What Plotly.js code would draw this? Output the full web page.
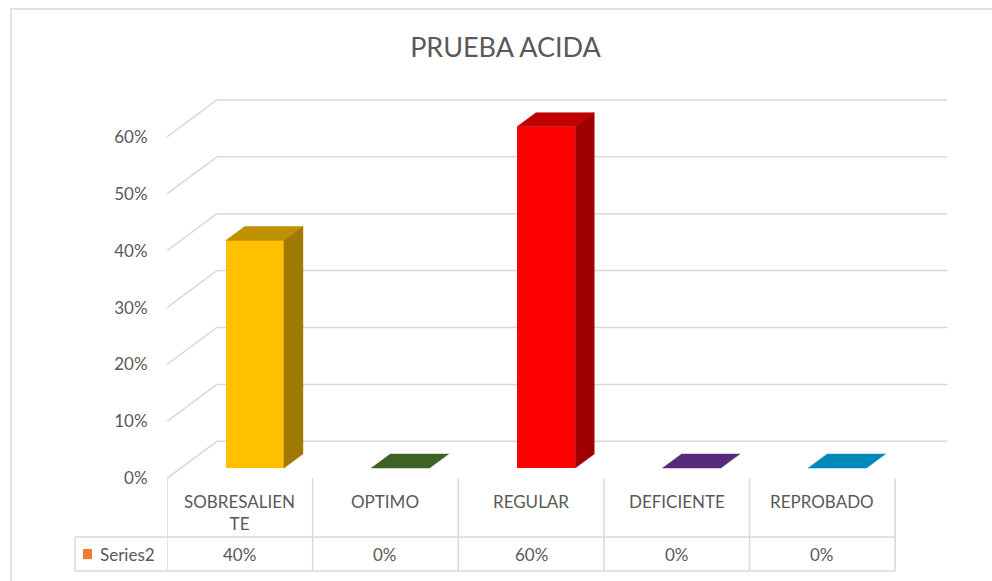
<!DOCTYPE html>
<html>
<head>
<meta charset="utf-8">
<script src="https://cdn.plot.ly/plotly-3.0.1.min.js"></script>
<style>html,body{margin:0;padding:0;background:#fff;}#chart{width:992px;height:581px;}</style>
</head>
<body>
<div id="chart"></div>
<script>
// ---- data ----
const categories = ['SOBRESALIENTE', 'OPTIMO', 'REGULAR', 'DEFICIENTE', 'REPROBADO'];
const values = [0.40, 0.00, 0.60, 0.00, 0.00];
const seriesName = 'Series2';
const yTickVals = [0, 0.1, 0.2, 0.3, 0.4, 0.5, 0.6];

// ---- styles ----
const frontColors = ['#FFC000', '#548235', '#FF0000', '#7030A0', '#00B0F0'];
const topColors   = ['#BF9000', '#3E6126', '#C00000', '#582A7E', '#0088B8'];
const sideColors  = ['#A07A00', '#2E4A1C', '#A00000', '#45205F', '#006C92'];
const FONT = 'Lato, "Open Sans", sans-serif';
const TXT = '#595959';
const GRID = '#D9D9D9';

// geometry (axis units)
const W = 801, H = 495, ML = 167, MT = 80, MB = 6, MR = 24;
const XR = [-0.5, 5.0], YR = [-0.17, 0.70];
const barW = 0.40;
const frontDx = 0.103, frontDy = 0.018;   // bar front plane offset
const depthDx = 0.1305, depthDy = 0.0246; // bar depth
const wallDx = 0.343, wallDy = 0.065;     // back wall offset
const wallRight = 4.857;
const row1 = -0.1033, row2 = -0.163;

const px2paperX = p => (p - ML) / W;
const py2paperY = p => (MT + H - p) / H;

const idx = categories.map((_, i) => i);
const traces = [];

// front faces
traces.push({
  type: 'bar', x: idx.map(i => i + frontDx), y: values,
  base: values.map(() => frontDy), width: values.map(() => barW),
  marker: {color: frontColors, line: {width: 0}},
  hoverinfo: 'skip', showlegend: false
});
// top and side faces
idx.forEach(i => {
  const v = values[i];
  const xl = i + frontDx - barW / 2, xr = i + frontDx + barW / 2;
  const yb = frontDy, yt = frontDy + v;
  traces.push({
    type: 'scatter', mode: 'lines', fill: 'toself', fillcolor: topColors[i],
    line: {width: 0.5, color: topColors[i]},
    x: [xl, xr, xr + depthDx, xl + depthDx, xl],
    y: [yt, yt, yt + depthDy, yt + depthDy, yt],
    hoverinfo: 'skip', showlegend: false
  });
  if (v > 0) {
    traces.push({
      type: 'scatter', mode: 'lines', fill: 'toself', fillcolor: sideColors[i],
      line: {width: 0.5, color: sideColors[i]},
      x: [xr, xr + depthDx, xr + depthDx, xr, xr],
      y: [yb, yb + depthDy, yt + depthDy, yt, yb],
      hoverinfo: 'skip', showlegend: false
    });
  }
});

const shapes = [];
// back wall gridlines + side wall diagonals
yTickVals.forEach(v => {
  shapes.push({type: 'line', layer: 'below', xref: 'x', yref: 'y',
    x0: XR[0] + wallDx, x1: wallRight, y0: v + wallDy, y1: v + wallDy,
    line: {color: GRID, width: 1.5}});
  shapes.push({type: 'line', layer: 'below', xref: 'x', yref: 'y',
    x0: XR[0], x1: XR[0] + wallDx, y0: v, y1: v + wallDy,
    line: {color: GRID, width: 1.5}});
});
// data table vertical lines
for (let k = 0; k <= categories.length; k++) {
  shapes.push({type: 'line', layer: 'below', xref: 'x', yref: 'y',
    x0: k - 0.5, x1: k - 0.5, y0: 0, y1: row2, line: {color: GRID, width: 1.5}});
}
// data table horizontal lines
[row1, row2].forEach(r => {
  shapes.push({type: 'line', layer: 'below', xref: 'paper', yref: 'y',
    x0: px2paperX(75), x1: (categories.length) / (XR[1] - XR[0]), y0: r, y1: r,
    line: {color: GRID, width: 1.5}});
});
shapes.push({type: 'line', layer: 'below', xref: 'paper', yref: 'y',
  x0: px2paperX(75), x1: px2paperX(75), y0: row1, y1: row2, line: {color: GRID, width: 1.5}});
// legend key
shapes.push({type: 'rect', xref: 'paper', yref: 'y',
  x0: px2paperX(83), x1: px2paperX(92), y0: (row1 + row2) / 2 - 0.009, y1: (row1 + row2) / 2 + 0.009,
  fillcolor: '#ED7D31', line: {width: 0}});
// chart frame
shapes.push({type: 'rect', xref: 'paper', yref: 'paper',
  x0: px2paperX(11), x1: px2paperX(1010), y0: py2paperY(600), y1: py2paperY(9),
  line: {color: GRID, width: 1.5}, fillcolor: 'rgba(0,0,0,0)'});

const wrap = s => s.length > 11 ? s.slice(0, 11) + '<br>' + s.slice(11) : s;
const annotations = [];
categories.forEach((c, i) => {
  annotations.push({xref: 'x', yref: 'y', x: i, y: -0.019, yanchor: 'top', xanchor: 'center',
    text: wrap(c), showarrow: false, font: {family: FONT, size: 17, color: TXT}});
  annotations.push({xref: 'x', yref: 'y', x: i, y: (row1 + row2) / 2, yanchor: 'middle', xanchor: 'center',
    text: Math.round(values[i] * 100) + '%', showarrow: false, font: {family: FONT, size: 17, color: TXT}});
});
annotations.push({xref: 'paper', yref: 'y', x: px2paperX(98), y: (row1 + row2) / 2, xanchor: 'left', yanchor: 'middle',
  text: seriesName, showarrow: false, font: {family: FONT, size: 17, color: TXT}});

const layout = {
  width: 992, height: 581,
  margin: {l: ML, r: MR, t: MT, b: MB},
  paper_bgcolor: '#fff', plot_bgcolor: 'rgba(0,0,0,0)',
  title: {text: 'PRUEBA ACIDA', font: {family: FONT, size: 27, color: TXT},
    xref: 'paper', x: px2paperX(505.5), xanchor: 'center',
    yref: 'container', y: 1 - 47.7 / 581, yanchor: 'middle'},
  xaxis: {range: XR, showgrid: false, zeroline: false, showline: false, showticklabels: false, fixedrange: true},
  yaxis: {range: YR, showgrid: false, zeroline: false, showline: false,
    tickmode: 'array', tickvals: yTickVals, tickformat: '.0%',
    ticks: 'outside', ticklen: 15, tickcolor: 'rgba(0,0,0,0)',
    tickfont: {family: FONT, size: 17, color: TXT}, fixedrange: true},
  shapes: shapes, annotations: annotations, showlegend: false, bargap: 0
};
Plotly.newPlot('chart', traces, layout, {displayModeBar: false, staticPlot: true});
</script>
</body>
</html>
